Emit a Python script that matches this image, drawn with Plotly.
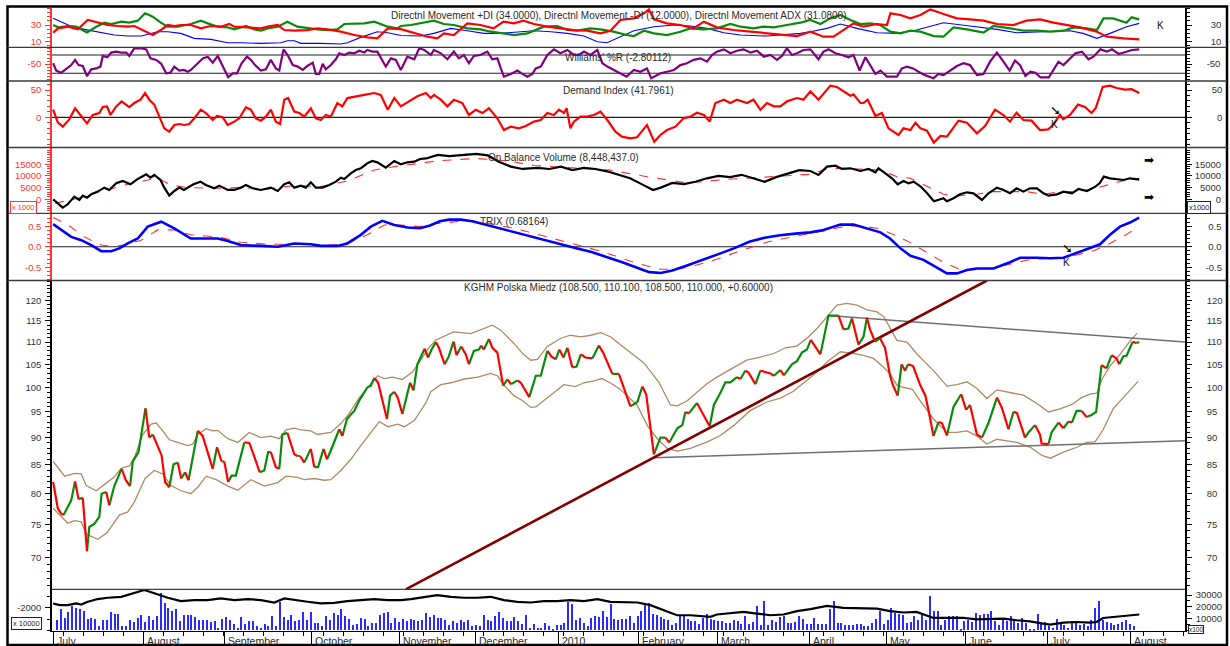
import math
import plotly.graph_objects as go

W, H = 1230, 646
FONT = "Liberation Sans, Arial, sans-serif"

# ---------------- DATA (x = trading-day index from 1 Jul 2009) ----------------
month_ticks = [0, 23.4, 44.6, 67.3, 90.0, 109.9, 131.5, 152.1, 172.7, 196.6, 216.8, 237.2, 258.5, 280.2]
month_labels = ["July", "August", "September", "October", "November", "December", "2010",
                "February", "March", "April", "May", "June", "July", "August"]

price_pts = [(0,82.0),(1.2,77.6),(2.1,76.7),(2.7,76.5),(4.7,78.9),(5.7,82.1),(6.6,79.1),(7.7,79.3),(8.8,70.9),(9.4,74.6),
 (10.7,75.1),(12.0,76.2),(12.6,80.0),(13.8,80.3),(14.6,78.1),(15.9,81.3),(17.8,84.3),(18.9,82.3),(20.0,81.3),(20.7,85.6),
 (22.2,87.3),(24.0,95.7),(25.0,90.0),(25.9,90.6),(27.2,88.5),(28.2,86.7),(29.1,82.0),(30.2,81.1),(31.3,85.1),(32.4,85.4),
 (33.3,82.6),(34.3,83.7),(35.2,82.3),(37.6,91.3),(38.9,90.3),(41.5,84.3),(42.6,88.2),(43.8,85.6),(44.5,85.6),(45.5,82.0),
 (46.4,83.1),(47.5,83.1),(49.7,89.1),(51.0,89.0),(52.1,86.9),(53.7,83.7),(54.9,84.0),(55.9,87.3),(56.6,87.3),(57.9,84.6),
 (58.8,84.3),(59.6,90.6),(60.9,90.9),(62.7,86.9),(63.5,86.6),(64.2,86.6),(65.3,85.4),(67.0,87.9),(67.9,84.6),(68.9,84.6),
 (70.3,87.9),(71.2,86.0),(72.2,87.6),(74.4,91.6),(75.2,90.3),(76.4,93.6),(77.4,94.5),(78.3,95.2),(79.6,97.3),(81.7,100.0),
 (82.6,100.4),(83.5,102.0),(84.5,101.0),(86.8,93.6),(87.6,98.3),(88.7,99.1),(89.6,97.9),(90.8,94.6),(92.8,101.0),(93.7,99.4),
 (94.7,105.0),(96.6,108.5),(97.5,106.5),(98.4,108.3),(99.5,110.0),(100.3,108.7),(101.8,105.0),(102.9,106.8),(104.1,110.1),(104.9,107.0),
 (106.1,109.0),(107.3,107.2),(108.1,105.0),(109.4,108.0),(110.7,108.3),(111.3,109.2),(112.0,108.3),(113.3,110.7),(114.2,108.7),(115.5,107.6),
 (117.0,100.4),(118.1,101.7),(119.1,100.7),(120.7,101.5),(121.6,101.0),(123.8,98.0),(125.5,102.5),(126.8,102.5),(128.5,108.0),(129.6,106.7),
 (130.7,106.1),(131.6,108.3),(132.7,106.5),(133.7,108.7),(135.0,104.3),(136.1,104.5),(137.2,107.2),(138.4,106.5),(140.2,106.3),(141.9,109.2),
 (143.0,107.6),(145.4,102.9),(147.1,102.9),(150.1,96.1),(151.9,97.0),(153.2,100.2),(154.2,98.6),(156.2,86.9),(157.9,90.0),(159.2,90.0),
 (160.2,89.1),(162.3,91.8),(163.6,92.4),(164.4,95.0),(165.3,94.7),(167.4,96.8),(170.7,92.2),(171.8,96.4),(173.5,98.9),(174.8,101.1),
 (176.1,101.1),(177.8,102.2),(178.7,101.8),(180.0,103.6),(180.8,103.2),(182.6,100.7),(183.9,103.6),(186.5,103.0),(187.4,102.5),(189.1,103.7),
 (190.0,102.6),(192.1,105.0),(193.4,105.7),(194.7,107.6),(196.0,108.3),(197.0,110.5),(198.2,109.0),(199.5,107.2),(201.6,116.3),(204.2,116.3),
 (205.5,113.0),(206.8,113.2),(207.7,115.6),(209.4,109.4),(210.7,111.2),(211.6,115.8),(212.4,113.0),(213.7,110.1),(215.0,110.9),(216.3,108.7),
 (217.6,102.5),(218.4,100.4),(219.6,98.3),(220.6,105.0),(221.5,103.6),(222.3,105.0),(223.6,104.6),(225.5,100.4),(226.8,98.3),(227.6,95.4),
 (228.9,90.3),(230.2,93.0),(231.1,92.8),(232.4,90.4),(234.1,96.0),(236.1,98.6),(237.4,95.4),(238.4,96.4),(240.2,90.6),(241.5,90.0),
 (243.2,92.8),(245.4,97.9),(246.7,95.8),(248.4,91.6),(249.7,95.0),(250.6,94.8),(252.7,90.0),(253.6,91.0),(255.3,92.4),(256.6,90.6),
 (257.0,88.9),(258.8,88.8),(259.6,91.0),(261.4,92.9),(262.7,91.8),(264.0,93.1),(264.9,92.9),(266.1,95.2),(267.4,95.2),(268.7,94.0),
 (270.0,94.4),(271.2,95.0),(272.6,104.8),(273.9,104.1),(275.2,107.0),(276.5,106.3),(277.2,105.0),(278.3,106.8),(279.1,106.9),(280.7,110.1),
 (281.6,109.8),(282.4,110.0)]

upper_pts = [(0,85.6),(3,83.0),(5.6,83.5),(7.3,83.4),(8.6,81.4),(11.2,80.5),(13.8,81.8),(15.8,82.8),(17.7,84.4),(19.8,84.8),
 (21.1,86.3),(23.3,90.6),(25.5,92.6),(26.8,92.8),(28.5,91.3),(30.2,89.6),(32.4,89.1),(35,88.5),(36.3,88.8),(37.6,90.6),
 (39.8,91.7),(41.5,91.3),(42.8,91.4),(45.4,89.8),(48.0,89.1),(51,91.0),(54,90.0),(56.6,90.3),(58.8,89.8),(60.5,91.5),
 (62.7,91.8),(64.4,91.5),(67,91.3),(68.7,90.6),(72.2,91.0),(74.8,92.7),(77,94.7),(79.6,97.9),(82.2,100.4),(84.4,102.5),
 (86.1,101.9),(88.2,102.2),(90.8,101.7),(93.4,103.3),(95.1,105.3),(97.5,108.5),(99.5,110.5),(104.2,112.4),(108.6,112.0),(112.9,113.6),
 (114.2,114.0),(116.4,112.8),(119.8,109.7),(122.4,107.1),(124.2,105.9),(125.9,106.1),(128.5,109.0),(132,110.9),(134.5,111.6),(137.2,111.2),
 (139.8,111.6),(142.4,112.2),(145,111.2),(147.5,109.4),(151,107.1),(153.6,105.3),(157.5,101.1),(160.5,96.4),(162.3,96.2),(164.8,97.2),
 (167.4,99.0),(170,100.8),(172.6,102.2),(176.9,104.3),(180.3,105.9),(183.9,106.6),(187.4,107.4),(190.4,108.7),(193.4,109.1),(196,110.9),
 (198.6,113.2),(201.2,116.0),(203.8,118.9),(206.4,119.3),(209,118.9),(211.6,117.7),(214.2,117.2),(216,116.0),(217.7,113.1),(219.4,110.4),
 (222,110.0),(224.6,107.3),(228.9,103.6),(232.4,100.3),(235,100.6),(237.6,101.2),(240.2,99.8),(242.8,97.7),(245.4,99.5),(247.5,99.1),
 (249.7,98.8),(252.3,98.4),(255.8,96.7),(258.8,95.0),(261.8,95.6),(264.9,96.5),(267.4,97.9),(269.6,98.6),(271.4,98.8),(272.6,101.6),
 (274.8,104.6),(277.4,107.2),(280.4,110.7),(281.9,112.1)]

lower_pts = [(0,77.6),(2.1,76.2),(3.8,75.2),(5.6,75.6),(7.3,75.4),(8.6,73.5),(11.6,72.7),(14,73.7),(17.2,76.5),(19.4,77.0),
 (21.1,78.6),(23.9,82.6),(26.3,84.0),(28.5,83.4),(30.6,81.4),(33.3,80.5),(35.8,80.0),(37.6,81.1),(39.8,83.0),(42.4,82.4),
 (45.4,81.3),(48,80.6),(51.4,82.4),(54.9,81.3),(58.4,81.9),(60.5,83.0),(63.5,82.8),(65.3,82.4),(67.9,82.6),(70.5,82.3),
 (72.2,82.4),(74.8,84.0),(77.4,86.0),(80,88.5),(82.6,90.9),(84.8,93.1),(87,92.1),(89.6,92.6),(91.3,92.1),(93.9,93.3),
 (96.9,96.8),(98.2,99.1),(100.8,100.6),(103.4,101.0),(106.9,101.8),(110.4,102.2),(113.8,103.0),(115.5,102.5),(117.2,100.5),(119.8,98.3),
 (122,97.3),(124.2,95.9),(125.5,96.0),(127.6,97.3),(130.2,99.0),(132.8,100.6),(135.8,100.2),(138,101.0),(140.6,101.4),(142.7,101.9),
 (145,100.9),(147.5,99.6),(151.9,96.3),(154.5,92.3),(157.1,89.8),(159.7,88.0),(162.3,87.5),(165.7,88.0),(170.1,89.2),(173.5,90.4),
 (176.9,92.3),(181.3,95.3),(185.6,97.0),(189.1,97.8),(192.5,99.2),(196,101.5),(198.6,103.3),(201.2,105.5),(204.7,107.8),(208.1,107.4),
 (210.7,107.0),(213.3,106.3),(216,104.3),(217.7,102.8),(219.4,100.5),(221.2,100.0),(223.4,99.6),(225.5,97.2),(228.9,93.6),(232.4,91.0),
 (235,91.0),(237.6,91.3),(240.2,90.3),(242.8,88.8),(245.4,89.7),(248,89.4),(250.6,89.1),(254.1,88.2),(257.1,86.7),(259.3,86.2),
 (262.7,87.3),(266.2,88.2),(268.7,89.1),(270.9,89.2),(273,91.5),(275.6,95.6),(278.3,98.0),(282.1,101.3)]

trend_pts = [(91.7, 65.45), (242.8, 125.2)]
resist_pts = [(201.6, 116.3), (294.3, 110.0)]
support_pts = [(156.2, 86.3), (294.3, 89.4)]

pdi_pts = [(0,30),(1.3,27.2),(3.9,28.8),(6.0,28),(8.8,21.2),(11.2,28),(13.3,32.8),(15.1,31.2),(17.7,34),(19.8,32.8),
 (22,35.2),(23.9,44),(25.9,40),(28,32.8),(29.8,28),(32.4,28),(35.8,31.2),(38.4,35.2),(40.2,32),(42.8,28),
 (45.4,27.2),(47.1,24.8),(50.1,28.8),(52.3,24.8),(54,23.2),(55.8,26),(58.4,28),(60.9,34),(63.5,28),(66.1,26),
 (68.7,24.8),(71.3,24),(73.9,24.8),(75.7,31.2),(78.3,32),(80.9,32),(83.5,34),(85.2,31.2),(87,28),(89.5,26),
 (90.4,28.8),(93,30),(95.6,32),(99,35.2),(101.6,31.2),(104.2,30),(107.7,26),(111.1,24.8),(113.8,22),(116.4,20),
 (119.8,18),(123.3,20),(127.6,28),(131.1,28.8),(133.7,24),(136.3,23.2),(139.7,26),(142.3,24.8),(145.7,22),(149.1,18),
 (151,16.8),(153.6,23.2),(156.2,20),(159.6,18),(163.1,22),(165.7,26),(169.2,24.8),(172.6,26),(176.1,31.2),(178.7,28),
 (182.1,26),(184.7,28),(187.4,27.2),(190.8,30),(194.3,32.8),(196.9,36),(199.5,31.2),(202.1,38),(204.7,42),(207.3,36),
 (209.9,31.2),(212.5,32),(215.1,30),(217.7,22),(220.3,20),(222.9,23.2),(225.5,22),(229,16.8),(231.5,16),(234.1,27.2),
 (237.6,24.8),(241.9,20.8),(244.5,28.8),(248.8,26),(252.3,23.2),(255.8,23.2),(259.2,22),(262.7,23.2),(265.3,27.2),(268.7,26),
 (271.4,24),(273.1,38),(275.6,38),(279.1,32.8),(280.4,39.2),(282.4,36.8)]

mdi_pts = [(0,20.8),(1.3,26),(3.9,28),(6.4,24.8),(9,36),(11.6,32.8),(14.2,30),(16.8,28.8),(19.4,28),(21.1,28.8),
 (23.7,23.2),(25.9,18),(28,24),(29.8,30),(31.5,28.8),(33.2,30),(35.8,30),(38.4,26),(41,28.8),(43.6,28),
 (45.8,31.2),(47.1,28),(50.6,27.2),(54,26),(55.8,28),(58.4,30),(60.1,24),(62.7,23.2),(66.1,24),(68.7,26),
 (71.3,24.8),(74.8,22),(78.3,18),(81.7,15.2),(84.3,14),(87,26),(90.4,25),(93.9,20),(97.3,16),(99.9,14),
 (101.6,20),(104.2,18),(107.7,32),(111.1,30),(114.5,26),(117.1,34),(119.8,32),(122.3,35.2),(125,31.2),(128.5,28),
 (131.9,26),(135.4,24),(138.8,23.2),(142.3,20),(144.9,23.2),(147.5,36),(151,38),(153.6,44),(154.9,48.8),(156.2,36.8),
 (159.6,32),(163.1,30),(166.5,26),(169.2,34),(172.6,27.2),(176.9,24),(181.3,22),(185.6,20),(189.9,18),(193.4,16.8),
 (196.9,22),(200.3,16),(202.9,16),(205.5,24),(208.1,32),(210.7,28),(214.2,31.2),(216.8,30),(217.7,44),(220.3,42),
 (222.9,38),(225.5,42),(228.1,48.8),(231.5,43.2),(235,38),(238.4,36.8),(241.9,35.2),(245.4,31.2),(249.7,30),(253.1,35.2),
 (256.6,36.8),(260.1,32.8),(263.5,30),(267,27.2),(271.4,22),(274,16),(278.3,14),(282.4,12.8)]

adx_pts = [(0,38),(3.9,30),(8.1,24.8),(12.5,20.8),(15.9,18),(19.4,16.8),(22.9,16.8),(27.2,22),(29.8,22),(33.2,20),
 (36.7,14),(41,12.8),(45.4,8.8),(48.8,8.8),(54,8),(59.2,8.8),(60.9,11.2),(62.7,11.2),(64.4,8),(69.6,8),
 (74.8,7.2),(76.5,8.8),(80,15.2),(84.3,22),(87,20.8),(90.4,17.5),(95.6,16.8),(99,20),(103.4,26),(107.7,23.2),
 (112,20),(116.4,20),(120.7,22),(125,23.2),(129.4,22),(133.7,20),(138,16.8),(141.5,10),(144,8.8),(146.6,14),
 (151,23.2),(156.2,28),(161.4,30),(165.7,28.8),(170,26),(174.4,20.8),(178.7,18),(185.6,16.8),(189.9,18),(194.3,20),
 (196.9,22),(201.2,26),(204.7,31.2),(209,26),(214.2,20.8),(219.4,20),(224.5,24),(231.5,32.8),(238.4,28.8),(245.4,24.8),
 (250.5,20.8),(257.4,22),(264.4,23.2),(267.8,20),(271.4,14),(274.8,20),(279.1,28),(282.4,32)]

wr_pts = [(0,-47),(0.8,-71),(2.1,-78),(3.4,-64),(4.7,-53),(5.7,-36),(6.6,-53),(7.7,-56),(8.8,-89),(9.9,-67),
 (11.2,-64),(12.3,-58),(12.9,-23),(14.1,-27.5),(15.1,-12),(16.4,-9),(17.7,-12),(19,-12),(19.8,-23),(21.1,2),
 (22.9,2),(24.2,-1.5),(25.3,-31),(26.8,-36),(28.1,-49),(29.4,-80),(30.5,-78),(31.5,-58),(32.8,-71),(34,-69),
 (35,-75),(35.8,-69),(37.6,-45),(38.9,-31),(40.2,-25.5),(41.5,-45),(42.8,-23),(44.3,-64),(45.5,-93),(46.7,-80),
 (47.8,-80),(49,-47),(50.4,-25.5),(51.4,-36),(52.5,-53),(54,-71),(55.3,-67),(56.6,-36),(57.9,-64),(58.8,-71),
 (59.9,-1.5),(61.1,-23),(62.3,-53),(63.6,-58),(64.9,-69),(66.1,-56),(67.5,-45),(68.3,-82),(69.2,-82),(70.1,-49),
 (70.9,-67),(72.2,-53),(73.5,-34),(74.4,-14.5),(75.7,-20),(77,-12),(78.3,-14.5),(79.6,-6),(80.9,-12),(81.7,-3.6),
 (83,-9),(84.3,-9),(85.2,-31),(86.5,-58),(87.8,-31),(89.1,-36),(90.4,-69),(92.1,-25.5),(93.9,-34),(95.2,2),
 (96.5,-3.6),(98.2,-20),(99,-3.6),(100.8,-14.5),(102.5,-34),(104.2,-9),(105.5,-31),(106.8,-20),(108.1,-47),(109.4,-23),
 (111.1,-20),(112.9,-9),(114.2,-34),(115.5,-31),(116.4,-64),(117.2,-91),(119,-82),(120.7,-71),(122,-82),(123.3,-91),
 (124.6,-82),(125.5,-64),(126.8,-58),(128.5,-20),(130.2,-1.5),(131.9,-14.5),(133.7,-3.6),(135.4,-20),(136.7,-20),(138,-9),
 (139.7,-20),(141.5,-3.6),(142.8,-47),(144.1,-58),(145.8,-69),(147.5,-80),(149.1,-91),(151,-69),(152.7,-75),(154.4,-64),
 (155.5,-96),(156.6,-89),(157.9,-80),(159.6,-75),(161.4,-69),(163.1,-53),(164.8,-47),(166.5,-36),(168.3,-31),(170,-42),
 (171.3,-20),(172.6,-9),(174.4,-1.5),(176.1,-14.5),(177.8,-6),(179.5,-1.5),(181.3,-12),(183,-6),(184.8,-25.5),(186.5,-20),
 (188.2,-36),(189.5,-23),(190.8,2),(192.1,-20),(193.4,-14.5),(195.1,-3.6),(196.9,-1.5),(199,-34),(200.3,-9),(201.6,-1.5),
 (203.4,-14.5),(205.1,-20),(206.8,-27.5),(208.1,-20),(209.7,-71),(211.2,-27.5),(212.5,-56),(213.8,-82),(215.1,-71),(216.8,-91),
 (219.4,-91),(220.7,-64),(222,-58),(223.6,-64),(225,-75),(226.7,-86),(228.9,-96),(230.2,-82),(231.5,-86),(233.2,-71),
 (235,-56),(236.7,-47),(238.4,-53),(240.2,-86),(241.9,-82),(243.6,-42),(245.4,-12),(247.1,-42),(248.7,-71),(250.1,-38),
 (251.4,-53),(252.8,-89),(254.1,-75),(255.4,-78),(256.7,-93),(258.9,-93),(260.2,-64),(261.4,-42),(262.7,-53),(264,-38),
 (265.8,-14.5),(267.5,-9),(269.2,-34),(270.5,-25.5),(272.3,-1.5),(274,-9),(275.3,-1.5),(277.1,-16.7),(278.8,-9),(280.5,-3.6),
 (282.4,-1.5)]

demand_pts = [(0,14),(1.2,-9.1),(2.5,-17.1),(4.2,-3.7),(5.7,16.5),(7.3,1.2),(8.8,-11),(10.3,4.3),(12.0,7.9),(12.9,18.9),
 (14.0,20.1),(14.9,4.3),(16.4,20.1),(17.8,29.3),(19.8,18.9),(21.1,26.2),(22.7,32.3),(23.9,44.5),(25.0,32.3),(26.3,23.2),
 (27.9,-1.8),(28.9,-20.1),(30.2,-26.2),(31.5,-14),(32.8,-12.2),(34.1,-14),(35.4,-12.2),(36.7,-1.8),(38.4,14),(39.7,7.9),
 (41.5,-4.9),(42.6,2.4),(44.1,0),(45.4,-14),(47.1,-7.9),(48.4,-1.8),(50.1,18.3),(51.4,14),(52.7,-1.8),(54.0,-6.1),
 (55.3,1.2),(56.6,14),(57.9,-7.9),(59.0,-12.2),(60.1,32.3),(61.1,35.3),(62.7,10.4),(64.0,7.9),(65.3,1.2),(67.0,16.5),
 (68.3,-1.8),(69.6,-4.9),(70.9,4.3),(72.2,1.2),(73.9,26.2),(75.2,20.1),(76.5,35.3),(78.3,37.1),(80.9,41),(83.5,44.5),
 (85.2,41),(87.0,14),(88.7,35.3),(90.4,20.1),(92.5,29.3),(94.7,38.4),(96.9,44.5),(98.2,35.3),(99,41),(100.8,32.3),
 (102.5,20.1),(104.2,32.3),(106.4,26.2),(108.1,4.3),(109.9,14),(111.6,7.9),(113.3,16.5),(115.5,-1.8),(117.2,-23.2),(119,-17.1),
 (121.1,-20.1),(122.9,-15.8),(125,-7.9),(126.8,-4.9),(128.5,7.9),(130.2,4.3),(131.5,14),(132.8,7.9),(133.5,16.5),(134.5,-20.1),
 (135.4,-7.9),(137.1,1.2),(138.8,1.2),(140.6,4.3),(142.3,10.4),(144.1,-4.9),(146.2,-26.2),(147.9,-35.4),(150.1,-38.4),(151.8,-36.6),
 (154.4,-14),(156.3,-44.5),(157.9,-32.3),(159.6,-23.2),(161.8,-17.1),(163.9,-1.8),(165.7,1.2),(167.4,8.5),(169.2,4.3),(170.7,-7.9),
 (172.2,26.2),(174.4,32.3),(176.1,26.2),(177.8,32.3),(180.4,26.2),(182.1,32.3),(183.9,14),(185.6,26.2),(187.4,20.1),(189.1,20.1),
 (190.8,29.3),(193.4,35.3),(195.1,32.3),(196.9,47.5),(199,32.3),(202.1,58),(203.8,55.5),(207.3,39.6),(208.1,42),(209.9,26.2),
 (210.7,26.2),(211.8,32.3),(213.8,2.4),(215.5,7.9),(217.2,-20.1),(219.8,-32.3),(221.1,-20.1),(222.9,-23.2),(224.2,-9.8),(225.5,-20.1),
 (227.2,-24.4),(229,-46.3),(230.7,-34.1),(232.4,-35.4),(235.4,-6.1),(237.6,-9.8),(240.2,-29.3),(242.3,-15.8),(244.9,14),(247.1,4.3),
 (248.8,-7.9),(250.5,8.5),(252.3,-4.9),(254.4,-6.1),(256.6,-23.2),(258.7,-22),(260,-14),(261.8,4.3),(262.6,-3.7),(264.4,4.3),
 (266.5,23.2),(268.3,18.9),(270,7.9),(271.1,17.1),(272.9,55.5),(274.8,58),(276.5,53.7),(278.7,50.6),(280.4,51.5),(282.4,44.5)]

obv_pts = [(0,0),(1.2,-1700),(2.5,-3570),(3.8,-2140),(5.5,1140),(6.8,-290),(7.7,1570),(8.8,710),(9.9,2140),(11.6,3290),
 (13.3,5000),(14.6,4000),(16.4,6850),(18.1,7850),(20.1,6430),(22.0,8710),(24.2,10710),(25.3,9280),(26.3,10420),(27.9,8280),
 (28.9,5000),(30.2,1570),(31.5,3570),(32.8,5000),(34.0,4000),(35.0,5000),(36.5,6430),(38.3,7570),(39.7,6140),(41.9,4710),
 (43.2,5860),(45.4,4000),(47.1,4000),(48.8,5000),(50.1,6140),(51.9,4710),(54.0,4000),(56.6,5000),(58.4,3570),(60.1,6430),
 (61.4,7280),(62.7,5000),(64.4,5860),(65.7,5000),(67.0,7280),(68.3,5000),(70.0,5000),(71.8,6140),(73.5,7570),(74.8,9280),
 (75.7,8710),(77.4,11140),(78.7,12570),(80.0,13280),(81.7,15420),(83.0,16420),(84.3,15850),(86.5,13570),(88.7,16420),(90.4,15000),
 (92.1,15850),(93.9,16140),(95.4,17280),(97,17500),(100,19000),(103,18500),(107,19000),(110,19500),(113,18800),(116,16000),
 (119,14000),(122,13000),(126,13500),(129,13000),(132,14000),(135,12500),(138,13500),(141,13000),(144,12000),(147,10500),
 (150,9000),(153,6500),(156,4000),(158,5000),(161,7000),(164,6500),(167,7500),(170,9000),(173,10000),(176,9500),
 (179,10500),(182,9000),(185,7500),(188,9500),(191,11000),(194,12500),(196.9,12140),(199,10420),(201.2,14000),(203.4,14420),
 (205.1,13000),(207.3,13280),(209.9,12140),(212,13000),(213.8,11570),(214.6,13280),(216.4,11140),(218.1,9000),(219.6,6430),(221.1,7850),
 (222.4,6850),(223.7,7570),(225.5,5570),(227.2,2710),(229,-860),(230.2,-140),(231.5,430),(232.4,-860),(234.1,430),(235.8,2140),
 (237.6,3000),(239.3,2570),(241.5,-290),(243.2,2570),(245.4,5000),(247.1,4000),(248.8,2570),(250.5,4710),(252.3,3290),(254,4710),
 (255.8,4710),(257.5,2570),(258.8,1570),(261,2140),(262.7,3290),(264.9,2570),(266.6,4430),(268.8,3570),(271,5430),(272.1,6850),
 (273.2,9710),(274.8,9000),(276.5,8710),(278.3,8280),(280,9000),(282.4,8450)]

obv_ma_pts = [(0.5,-1700),(6.4,430),(12.5,3290),(19.4,6430),(24.6,8280),(27.2,9000),(30.6,6140),(35,5000),(41.9,4710),(48.8,5000),
 (55.8,4430),(62.7,5860),(69.6,5430),(76.5,7850),(83.5,12570),(90.4,14420),(95.4,15420),(100,16500),(110,17500),(118,16500),
 (125,14500),(135,13500),(145,12500),(155,9500),(165,7000),(175,8500),(185,9500),(196.9,10710),(201.2,13000),(205.5,13280),
 (209.9,13000),(215.1,12570),(219.4,9710),(222.9,9000),(227.2,5570),(231.5,2140),(235.8,1570),(240.1,2140),(244.5,3290),(248.8,3290),
 (253.1,3290),(257.4,2140),(261.8,3290),(266.1,3290),(270.5,4430),(274.8,6430),(279.1,8280),(282.4,9000)]

trix_pts = [(0,0.55),(2.1,0.41),(4.7,0.24),(7.3,0.16),(9.9,0.04),(12.5,-0.11),(15.1,-0.11),(17.2,-0.04),(19.4,0.08),(22,0.20),
 (24.6,0.49),(28.1,0.61),(31.5,0.45),(35.8,0.20),(38.4,0.20),(42.8,0.20),(45.4,0.14),(48.8,0.04),(54,0.02),(58.4,0.0),
 (62.7,0.08),(67,0.06),(69.6,0.02),(73.9,0.02),(76.5,0.08),(80,0.29),(82.6,0.49),(85.6,0.63),(88.7,0.53),(92.1,0.47),
 (95.4,0.45),(98,0.52),(100.5,0.62),(103,0.66),(106,0.66),(109,0.62),(112,0.55),(116,0.45),(120,0.35),(124,0.25),
 (128,0.15),(132,0.06),(136,-0.04),(140,-0.13),(144,-0.25),(148,-0.38),(152,-0.52),(155,-0.62),(158,-0.64),(161,-0.58),
 (165,-0.45),(169,-0.32),(173,-0.18),(177,-0.04),(181,0.12),(185,0.22),(189,0.28),(193,0.32),(196.9,0.35),(200.3,0.41),
 (204.7,0.54),(208.1,0.54),(211.6,0.45),(215.1,0.35),(217.6,0.20),(220.3,-0.04),(222.9,-0.22),(226.3,-0.32),(229.8,-0.51),(232.4,-0.65),
 (235,-0.65),(237.6,-0.57),(240.1,-0.53),(244.5,-0.53),(248.8,-0.38),(251.4,-0.27),(255.8,-0.27),(259.2,-0.28),(262.7,-0.27),(266.1,-0.15),
 (269.6,-0.04),(272.2,0.06),(274.8,0.29),(277.4,0.49),(280,0.59),(282.4,0.71)]

trix_sig_pts = [(0,0.71),(3.9,0.53),(8.1,0.24),(12.5,0.04),(15.9,0.0),(19.4,0.06),(22.9,0.16),(27.2,0.41),(31.5,0.41),(35.8,0.29),
 (42.8,0.24),(48.8,0.11),(55.8,0.06),(64.4,0.06),(73,0.04),(77.4,0.12),(81.7,0.29),(86.1,0.53),(90.4,0.53),(95.4,0.49),
 (98,0.55),(102,0.58),(106,0.62),(110,0.62),(114,0.56),(118,0.48),(122,0.4),(126,0.3),(130,0.2),(134,0.1),
 (138,0.0),(142,-0.1),(146,-0.22),(150,-0.35),(154,-0.46),(158,-0.55),(162,-0.55),(166,-0.48),(170,-0.38),(174,-0.26),
 (178,-0.12),(182,0.0),(186,0.12),(190,0.2),(194,0.27),(196.9,0.31),(201.2,0.40),(205.5,0.49),(209.9,0.51),(214.2,0.45),
 (218.5,0.30),(222.9,0.10),(227.2,-0.15),(231.5,-0.38),(235.8,-0.55),(240.1,-0.56),(244.5,-0.52),(248.8,-0.42),(253.1,-0.33),(257.4,-0.29),
 (261.8,-0.28),(266.1,-0.2),(270.5,-0.1),(274.8,0.08),(279.1,0.3),(282.4,0.5)]

# daily volume, thousands of shares (days 1..281)
volume_k = [9.1,17.6,10.5,15.3,20.4,19.0,17.6,16.2,9.6,10.5, 9.6,4.0,8.5,8.5,15.3,13.9,13.9,3.4,3.4,8.5,
 6.8,10.5,13.3,6.8,11.9,9.1,11.9,31.7,23.2,19.0, 16.2,17.6,8.2,12.8,13.3,13.3,11.3,8.5,9.1,9.1,
 6.8,7.7,2.0,9.6,11.1,9.1,5.7,2.0,11.3,5.7, 7.7,7.7,3.4,2.0,5.7,3.4,12.5,3.4,23.8,11.3,
 8.5,13.3,7.7,8.5,15.3,8.5,15.6,6.2,6.2,4.0, 12.5,9.1,14.7,13.3,17.6,11.9,9.6,4.8,5.7,10.5,
 9.6,4.0,6.2,6.2,13.3,14.7,15.6,6.2,10.5,6.8, 9.6,7.7,9.6,8.5,
 7.7,8.5,14.7,11.3,12.8,10.5,10.5,9.1,4.8,7.7, 6.2,8.5,6.8,9.1,3.4,4.8,3.4,13.3,8.5,7.7,
 11.9,15.3,10.5,7.7,7.7,11.3,7.7,5.7,13.3,2.0, 5.7,2.0,2.0,6.2,3.4,1.1,4.8,4.8,6.2,23.8,
 21.8,9.1,10.5,6.2,3.4,10.5,11.9,11.3,16.2,11.3, 21.8,9.6,9.1,9.6,9.6,11.9,6.2,11.9,16.2,21.8,
 22.7,14.2,13.3,11.3,9.6,9.1,4.8,6.2,13.3,11.9, 9.6,7.7,7.7,5.7,10.5,14.2,9.6,9.1,7.7,7.7,
 6.2,6.2,8.5,7.7,5.7,12.5,5.7,6.8,20.4,4.8, 24.7,4.8,8.5,6.8,11.3,12.5,6.2,6.2,6.8,11.9,
 9.6,5.7,5.7,
 10.5,5.7,5.7,5.7,17.6,24.7,6.2,6.2,4.8,4.8, 4.8,5.4,5.7,4.0,4.0,6.2,9.6,16.2,5.7,9.1,
 19.0,14.7,14.2,13.3,6.2,6.8,11.9,9.1,14.2,8.5, 28.9,16.2,16.2,4.8,8.5,11.9,11.9,11.9,1.1,7.7,
 8.5,6.8,14.7,13.3,14.2,14.2,15.9,7.7,4.8,9.6, 7.7,12.5,7.7,6.2,10.5,6.2,1.1,1.1,14.2,6.2,
 6.8,3.4,2.0,9.6,6.2,4.8,2.0,7.7,6.2,4.8, 5.7,4.0,8.5,19.0,24.7,9.1,6.8,6.2,4.8,5.7,
 6.8,9.1,5.7,3.4]

volume_line_pts = [(0,22.9),(1.7,21.5),(3.8,21.5),(6,22.9),(7.3,22.0),(9,24.3),(11.6,26.6),(14.2,27.7),(17.7,28.5),(21.1,31.4),
 (23.7,34.2),(26.3,31.4),(29.8,27.7),(33.2,24.9),(36.7,25.7),(40.2,25.7),(43.6,27.1),(47.1,25.7),(50.6,26.6),(54,25.7),
 (57.5,23.7),(60.1,27.1),(62.7,25.7),(66.1,24.3),(69.6,22.9),(73.1,23.4),(76.5,24.9),(80,25.7),(83.5,26.6),(86.9,25.7),
 (90.4,25.7),(93,26.6),(96.5,28.5),(99.9,29.9),(103.4,28.5),(106.8,27.7),(110.3,27.7),(113.8,28.5),(117.2,25.7),(120.7,24.3),
 (124.2,23.7),(127.6,24.9),(131.1,24.9),(134.5,25.7),(138,24.9),(141.5,26.6),(144.9,24.3),(148.4,23.7),(151.9,23.7),(155.3,21.5),
 (158.8,17.2),(162.2,13.0),(165.7,13.0),(169.2,12.4),(170.9,11.6),(172.6,13.6),(176.1,14.4),(179.5,15.8),(183,14.4),(186.5,13.0),
 (189.9,13.6),(193.4,16.4),(196.9,18.1),(201.2,20.9),(205.5,19.2),(209.8,19.2),(214.2,18.6),(217.6,16.4),(221.1,15.3),(224.5,15.8),
 (228.9,10.7),(233.2,10.7),(236.7,10.7),(240.1,9.6),(243.6,10.2),(247.1,10.2),(250.5,8.8),(254,7.9),(257.4,5.9),(259.2,5.1),
 (262.7,6.8),(266.1,7.3),(269.6,6.8),(271.3,7.3),(273,10.7),(276.5,11.6),(279.9,13.0),(282.4,13.6)]

# ---------------- FIGURE ----------------
def xy(pts):
    return [p[0] for p in pts], [p[1] for p in pts]

def px_x(v):
    return v / W

def px_y(v):
    return 1 - v / H

fig = go.Figure()

def add_line(pts, yaxis, color, width, dash=None):
    xs, ys = xy(pts)
    fig.add_trace(go.Scatter(x=xs, y=ys, xaxis="x", yaxis=yaxis, mode="lines",
                             line=dict(color=color, width=width, dash=dash),
                             hoverinfo="skip", showlegend=False))

# DMI
add_line(adx_pts, "y", "#0000FF", 1.1)
add_line(pdi_pts, "y", "#0A8A0A", 2.2)
add_line(mdi_pts, "y", "#FF0000", 2.2)
# Williams %R
add_line(wr_pts, "y2", "#800080", 2.2)
# Demand index
add_line(demand_pts, "y3", "#FF0000", 2.2)
# OBV
add_line(obv_ma_pts, "y4", "#FF3030", 1.1, "dash")
add_line(obv_pts, "y4", "#000000", 2.2)
# TRIX
add_line(trix_sig_pts, "y5", "#FF3030", 1.1, "dash")
add_line(trix_pts, "y5", "#0000FF", 2.6)
# Price: bands, trend lines, coloured close line
add_line(upper_pts, "y6", "#B08A64", 1.3)
add_line(lower_pts, "y6", "#B08A64", 1.3)
add_line(resist_pts, "y6", "#707070", 1.5)
add_line(support_pts, "y6", "#707070", 1.5)
add_line(trend_pts, "y6", "#800000", 2.6)

pxs, pys = xy(price_pts)
gx, gy, rx, ry = [], [], [], []
for i in range(len(pxs) - 1):
    up = pys[i + 1] >= pys[i]
    tx, ty = (gx, gy) if up else (rx, ry)
    if tx and tx[-1] == pxs[i]:
        tx.append(pxs[i + 1]); ty.append(pys[i + 1])
    else:
        if tx:
            tx.append(None); ty.append(None)
        tx += [pxs[i], pxs[i + 1]]; ty += [pys[i], pys[i + 1]]
fig.add_trace(go.Scatter(x=gx, y=gy, xaxis="x", yaxis="y6", mode="lines",
                         line=dict(color="#0A8A0A", width=2.2), hoverinfo="skip", showlegend=False))
fig.add_trace(go.Scatter(x=rx, y=ry, xaxis="x", yaxis="y6", mode="lines",
                         line=dict(color="#FF0000", width=2.2), hoverinfo="skip", showlegend=False))

# Volume
vol_x = list(range(1, len(volume_k) + 1))
fig.add_trace(go.Bar(x=vol_x, y=[v * 1000 for v in volume_k], xaxis="x", yaxis="y14",
                     marker=dict(color="#2A2AFF", line=dict(width=0)), width=0.35,
                     hoverinfo="skip", showlegend=False))
vlx, vly = xy(volume_line_pts)
fig.add_trace(go.Scatter(x=vlx, y=[v * 1000 for v in vly], xaxis="x", yaxis="y14", mode="lines",
                         line=dict(color="#000000", width=2.2), hoverinfo="skip", showlegend=False))

# empty traces so that every twin axis has a subplot
for ax in ["y7", "y8", "y9", "y10", "y11", "y12", "y13"]:
    fig.add_trace(go.Scatter(x=[None], y=[None], xaxis="x", yaxis=ax, mode="lines",
                             hoverinfo="skip", showlegend=False))

# ---------------- AXES ----------------
XDOM = [px_x(52), px_x(1185)]
XR = [-0.3, 294.3]
RED = "#FF3333"
DARK = "#333333"
FS = 9.5
FIG = "\u2007"
PUN = "\u2008"

def dom(top, bot):
    return [px_y(bot), px_y(top)]

panels = {
    "dmi": (7.5, 47.3, [3.3, 51.0]),
    "wr": (47.3, 81.0, [-105.2, 5.2]),
    "dem": (81.0, 147.5, [-55.2, 66.5]),
    "obv": (147.5, 213.3, [-6000, 22200]),
    "trix": (213.3, 280.5, [-0.824, 0.815]),
    "price": (280.5, 589.3, [math.log10(65.45), math.log10(125.2)]),
    "vol": (589.3, 630.7, [0, 34790]),
}

def left_axis(key, tickvals, ticktext, color, minor_dtick, rng=None, log=False, minor_vals=None, labelcolor=None):
    top, bot, r = panels[key]
    d = dict(domain=dom(top, bot), range=rng if rng is not None else r, anchor="x", side="left",
             showgrid=False, zeroline=False, showline=True, linecolor=color, linewidth=1.5,
             ticks="outside", ticklen=5, tickcolor=color, tickwidth=1,
             tickmode="array", tickvals=tickvals, ticktext=ticktext, ticklabelstandoff=2,
             tickfont=dict(family=FONT, size=FS, color=labelcolor or color), fixedrange=True)
    if log:
        d["type"] = "log"
        d["minor"] = dict(ticks="outside", ticklen=3, tickcolor=color, tickvals=minor_vals)
    else:
        d["minor"] = dict(ticks="outside", ticklen=3, tickcolor=color, dtick=minor_dtick, tick0=0)
    return d

def right_axis(key, over, tickvals, ticktext, standoff, minor_dtick, log=False, minor_vals=None):
    top, bot, r = panels[key]
    d = dict(overlaying=over, range=r, anchor="x", side="right",
             showgrid=False, zeroline=False, showline=True, linecolor="black", linewidth=1.5,
             ticks="outside", ticklen=5, tickcolor="black", tickwidth=1,
             tickmode="array", tickvals=tickvals, ticktext=ticktext, ticklabelstandoff=standoff,
             tickfont=dict(family=FONT, size=FS, color=DARK), fixedrange=True)
    if log:
        d["type"] = "log"
        d["minor"] = dict(ticks="outside", ticklen=3, tickcolor="black", tickvals=minor_vals)
    else:
        d["minor"] = dict(ticks="outside", ticklen=3, tickcolor="black", dtick=minor_dtick, tick0=0)
    return d

price_ticks = [70, 75, 80, 85, 90, 95, 100, 105, 110, 115, 120]
price_text = [str(v) for v in price_ticks]
price_minor = list(range(66, 126))

layout = dict(
    width=W, height=H, margin=dict(l=0, r=0, t=0, b=0),
    paper_bgcolor="white", plot_bgcolor="rgba(0,0,0,0)", showlegend=False,
    font=dict(family=FONT, size=10, color=DARK), bargap=0,
    xaxis=dict(domain=XDOM, range=XR, anchor="y7", showgrid=False, zeroline=False,
               showline=True, linecolor="black", linewidth=1.2, ticks="outside", ticklen=15,
               tickcolor="black", tickmode="array", tickvals=month_ticks, showticklabels=False,
               minor=dict(ticks="outside", ticklen=4, tickcolor="black", tick0=2.6, dtick=5.2),
               fixedrange=True),
    yaxis=left_axis("dmi", [10, 30], ["10", "30"], RED, 5),
    yaxis2=left_axis("wr", [-50], ["-50"], RED, 10),
    yaxis3=left_axis("dem", [0, 50], ["0", "50"], RED, 10),
    yaxis4=left_axis("obv", [0, 5000, 10000, 15000], ["0", "5000", "10000", "15000"], RED, 1000),
    yaxis5=left_axis("trix", [-0.5, 0, 0.5], ["-0.5", "0.0", "0.5"], RED, 0.1),
    yaxis6=left_axis("price", price_ticks, price_text, "black", None, log=True,
                     minor_vals=price_minor, labelcolor="#30304A"),
    yaxis7=left_axis("vol", [-2000], ["-2000"], "black", 1000, rng=[-4000, -400], labelcolor=DARK),
    yaxis8=right_axis("dmi", "y", [10, 30], ["10", "30"], 17, 5),
    yaxis9=right_axis("wr", "y2", [-50], ["-50"], 13, 10),
    yaxis10=right_axis("dem", "y3", [0, 50], [FIG + "0", "50"], 18, 10),
    yaxis11=right_axis("obv", "y4", [0, 5000, 10000, 15000],
                       [FIG * 4 + "0", FIG + "5000", "10000", "15000"], 1, 1000),
    yaxis12=right_axis("trix", "y5", [-0.5, 0, 0.5], ["-0.5", PUN + "0.0", PUN + "0.5"], 12, 0.1),
    yaxis13=right_axis("price", "y6", price_ticks, price_text, 13, None, log=True, minor_vals=price_minor),
    yaxis14=right_axis("vol", "y7", [10000, 20000, 30000], ["10000", "20000", "30000"], 2, 5000),
)
fig.update_layout(**layout)

# ---------------- SHAPES ----------------
shapes = []
shapes.append(dict(type="rect", xref="paper", yref="paper", x0=px_x(7.5), x1=px_x(1227),
                   y0=px_y(645), y1=px_y(6.5), line=dict(color="black", width=2.5)))
for ypx in [47.3, 81.0, 147.5, 213.3, 280.5]:
    shapes.append(dict(type="line", xref="paper", yref="paper", x0=px_x(7.5), x1=px_x(1227),
                       y0=px_y(ypx), y1=px_y(ypx), line=dict(color="#3A3A3A", width=1.3)))
shapes.append(dict(type="line", xref="paper", yref="paper", x0=px_x(52), x1=px_x(1185),
                   y0=px_y(589.3), y1=px_y(589.3), line=dict(color="#3A3A3A", width=1.2)))
for yref, val in [("y2", -20), ("y2", -80), ("y3", 0), ("y5", 0)]:
    shapes.append(dict(type="line", xref="x domain", x0=0, x1=1, yref=yref, y0=val, y1=val,
                       line=dict(color="#202020", width=1.1), layer="below"))
fig.update_layout(shapes=shapes)

# ---------------- ANNOTATIONS ----------------
ann = []
def text(xp, yp, s, size=10, color="#2A2A2A", xanchor="center", family=FONT):
    ann.append(dict(xref="paper", yref="paper", x=px_x(xp), y=px_y(yp), text=s, showarrow=False,
                    xanchor=xanchor, yanchor="middle", font=dict(family=family, size=size, color=color)))

text(618, 15, "Directnl Movement +DI (34.0000), Directnl Movement -DI (12.0000), Directnl Movement ADX (31.0800)")
text(618, 57, "Williams' %R (-2.80112)")
text(618, 91, "Demand Index (41.7961)")
text(563, 157, "On Balance Volume (8,448,437.0)")
text(514, 222, "TRIX (0.68164)")
text(618, 287.5, "KGHM Polska Miedz (108.500, 110.100, 108.500, 110.000, +0.60000)")

for mx, ml in zip(month_ticks, month_labels):
    ann.append(dict(xref="x", yref="paper", x=mx, y=px_y(640.5), text=ml, showarrow=False,
                    xanchor="left", yanchor="middle", xshift=1.5,
                    font=dict(family=FONT, size=10.5, color="#2A2A2A")))

# 'K' markers and arrow glyphs
text(1160, 25, "K", size=10, color="#111111")
text(1054, 124.5, "K", size=10, color="#111111")
text(1066, 262.5, "K", size=10, color="#111111")
ARROW_FONT = "DejaVu Sans, sans-serif"
text(1055.5, 111, "<b>\u2798</b>", size=13, color="black", family=ARROW_FONT)
text(1067, 248.5, "<b>\u2798</b>", size=13, color="black", family=ARROW_FONT)
text(1149, 160, "\u27A1", size=12, color="black", family=ARROW_FONT)
text(1149, 197.5, "\u27A1", size=12, color="black", family=ARROW_FONT)

# unit boxes
def box(xp, yp, s, color, size=7.5, pad=1):
    ann.append(dict(xref="paper", yref="paper", x=px_x(xp), y=px_y(yp), text=s, showarrow=False,
                    xanchor="center", yanchor="middle", bgcolor="white", bordercolor=color,
                    borderwidth=1, borderpad=pad, font=dict(family=FONT, size=size, color=color)))
box(23.5, 208, "x 1000", RED)
box(1198.5, 207.5, "x1000", "#222222")
box(26, 623.5, "x 10000", "#222222")
box(1196, 629.5, "x100", "#222222", size=6.5, pad=0)

fig.update_layout(annotations=ann)

fig.write_html("out.html", config={"displayModeBar": False},
               post_script="document.body.style.margin='0px';")
